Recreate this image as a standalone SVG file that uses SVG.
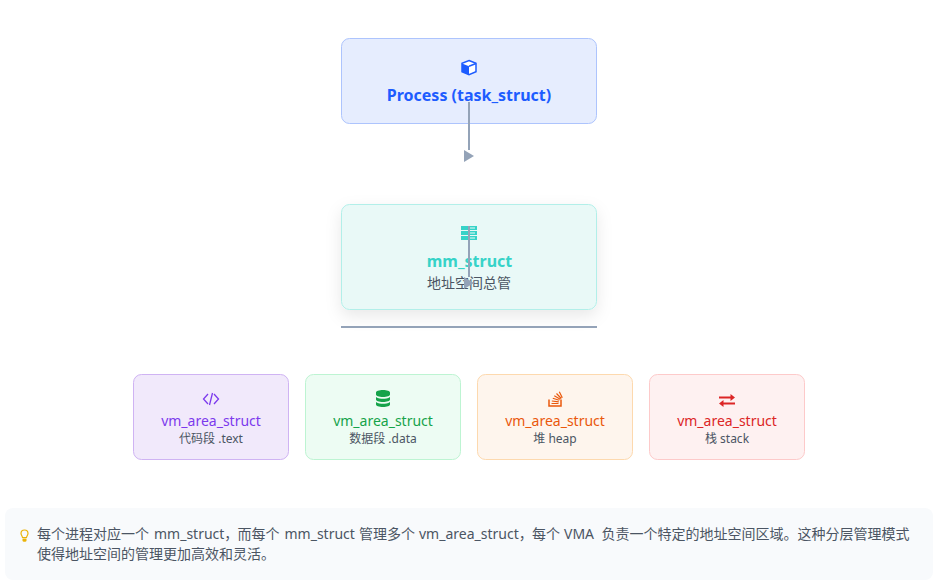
<svg xmlns="http://www.w3.org/2000/svg" width="942" height="585" viewBox="0 0 942 585">
<style>
text{font-family:"Noto Sans","Noto Sans CJK SC",sans-serif;text-anchor:middle}
.t{font-size:16px;font-weight:700}
.v{font-size:14px}
.s{font-size:12px;fill:#4b5563}
.n{font-size:14px;fill:#4b5563;text-anchor:start}
.c{fill:none;stroke:#94a3b8;stroke-width:2}
.h{fill:#94a3b8}
</style>
<defs>
<filter id="sh" x="-20%" y="-30%" width="140%" height="170%"><feDropShadow dx="0" dy="6" stdDeviation="8" flood-color="#000" flood-opacity=".09"/></filter>
</defs>
<rect width="942" height="585" fill="#fff"/>
<g id="process">
<rect x="341.500" y="38.500" width="255" height="85" rx="8" fill="#e6edfe" stroke="#adc4fd"/>
<path d="M469 60.500l7 2.800v8.400l-7 3-7-3v-8.400z" fill="#fff" stroke="#1d5cff" stroke-width="1.500"/>
<path d="M462 63.500l7 2.800v8.500l-7-3z" fill="#1d5cff"/><path d="M469 66.300l7-2.800" stroke="#1d5cff" stroke-width="1.500"/>
<text class="t" x="469" y="101" fill="#1d5cff">Process (task_struct)</text>
</g>
<g id="mm_struct">
<rect x="341.500" y="204.500" width="255" height="105" rx="8" fill="#e9f9f7" stroke="#b2efe9" filter="url(#sh)"/>
<path d="M461 226h16v4h-16zM461 231h16v4h-16zM461 236h16v4h-16z" fill="#36d3c8"/>
<path d="M470 228h5M470 233h5M470 238h5" stroke="#e9f9f7"/>
<text class="t" x="469.500" y="267" fill="#36d3c8">mm_struct</text>
<text class="v" x="469" y="288" fill="#4b5563">地址空间总管</text>
</g>
<g id="connectors">
<path class="c" d="M469 102V150"/>
<path class="h" d="M464 150l10 6-10 6z"/>
<path class="c" d="M469 226V277"/>
<path class="h" d="M464 277l10 6-10 6z"/>
<path class="c" d="M341 327H597"/>
</g>
<g id="vma-text">
<rect x="133.500" y="374.500" width="155" height="85" rx="8" fill="#f1e9fb" stroke="#cfb3f3"/>
<path d="M208 394l-4.500 5 4.500 5M214 394l4.500 5-4.500 5M212.500 393l-3 12" fill="none" stroke="#7c3aed" stroke-width="1.300"/>
<text class="v" x="211" y="426" fill="#7c3aed">vm_area_struct</text>
<text class="s" x="211" y="443">代码段 .text</text>
</g>
<g id="vma-data">
<rect x="305.500" y="374.500" width="155" height="85" rx="8" fill="#edfcf3" stroke="#bdf4d2"/>
<path d="M376 392.500c0-1.500 3-2.500 7-2.500s7 1 7 2.500v2c0 1.500-3 2.500-7 2.500s-7-1-7-2.500zM376 397c2 1.500 5 1.800 7 1.800s5-.3 7-1.800v2.500c0 1.500-3 2.500-7 2.500s-7-1-7-2.500zM376 402c2 1.500 5 1.800 7 1.800s5-.3 7-1.800v2.500c0 1.500-3 2.500-7 2.500s-7-1-7-2.500z" fill="#16a34a"/>
<text class="v" x="383" y="426" fill="#16a34a">vm_area_struct</text>
<text class="s" x="383" y="443">数据段 .data</text>
</g>
<g id="vma-heap">
<rect x="477.500" y="374.500" width="155" height="85" rx="8" fill="#fef5ed" stroke="#fdd9ae"/>
<path d="M549 399.500v6.500h12v-6.500" fill="none" stroke="#ea580c" stroke-width="1.500"/>
<path d="M551.500 403.500h7M551.800 401l7 .8M552.800 398.300l6.500 2M554.300 395.800l6 3.500M556.500 393.500l4.800 5M559.300 391.800l3 6" fill="none" stroke="#ea580c" stroke-width="1.200"/>
<text class="v" x="555" y="426" fill="#ea580c">vm_area_struct</text>
<text class="s" x="555" y="443">堆 heap</text>
</g>
<g id="vma-stack">
<rect x="649.500" y="374.500" width="155" height="85" rx="8" fill="#fef1f1" stroke="#fdcaca"/>
<path d="M719 396.500h11.500v-2.500l4.500 3.500-4.500 3.500v-2.500h-11.500zM735 402.500h-11.500v-2.500l-4.500 3.500 4.500 3.500v-2.500h11.500z" fill="#dc2626"/>
<text class="v" x="727" y="426" fill="#dc2626">vm_area_struct</text>
<text class="s" x="727" y="443">栈 stack</text>
</g>
<g id="note">
<rect x="5" y="508" width="928" height="72" rx="8" fill="#f8fafc"/>
<path d="M24.500 530a3.500 3.500 0 0 1 3.500 3.500c0 1.500-1.200 2.300-1.500 4h-4c-.3-1.700-1.500-2.500-1.500-4a3.500 3.500 0 0 1 3.500-3.500z" fill="none" stroke="#eab308" stroke-width="1.200"/>
<path d="M22.500 538.500h4v2.500l-1 .8h-2l-1-.8z" fill="#eab308"/>
<text class="n" x="37" y="539">每个进程对应一个 <tspan x="154">mm_struct，</tspan><tspan x="237.500">而每个 </tspan><tspan x="284.500">mm_struct </tspan><tspan x="359">管理多个 </tspan><tspan x="419">vm_area_struct，</tspan><tspan x="532">每个 </tspan><tspan x="564">VMA </tspan><tspan x="601.500">负责一个特定的地址空间区域。这种分层管理模式</tspan></text>
<text class="n" x="37" y="559">使得地址空间的管理更加高效和灵活。</text>
</g>
</svg>
